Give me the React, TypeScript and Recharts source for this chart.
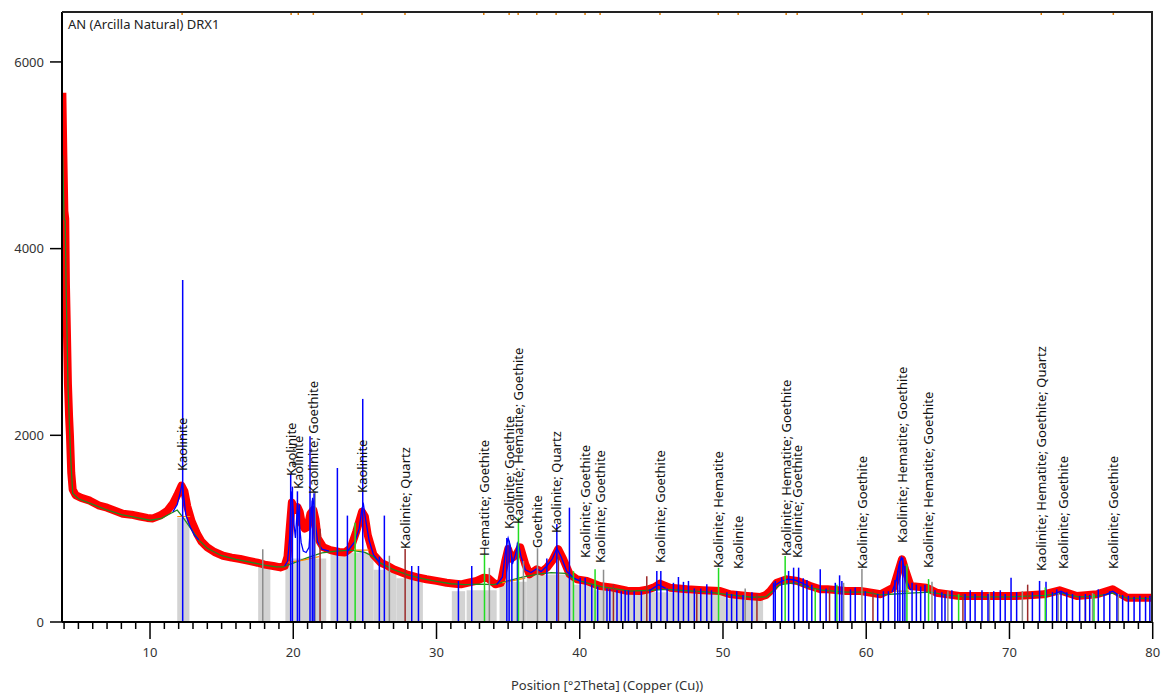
import React from "react";
import {
  ComposedChart,
  Line,
  Scatter,
  XAxis,
  YAxis,
  ReferenceLine,
  ReferenceArea,
} from "recharts";

const FONT = '"Noto Sans", "Open Sans", sans-serif';

// measured scan [°2Theta, counts]
const scanPoints = [
  [3.88, 5670], [3.95, 5000], [4.02, 4400], [4.08, 4320], [4.13, 3620], [4.2, 3100],
  [4.27, 2550], [4.35, 2200], [4.41, 2000], [4.5, 1600], [4.6, 1420], [4.8, 1360],
  [5.2, 1330], [5.8, 1300], [6.4, 1250], [7.0, 1225], [7.6, 1190], [8.1, 1160],
  [8.7, 1150], [9.3, 1130], [9.8, 1115], [10.2, 1110], [10.7, 1140], [11.2, 1190],
  [11.6, 1270], [11.9, 1360], [12.2, 1460], [12.4, 1400], [12.6, 1240], [12.9, 1080],
  [13.3, 940], [13.6, 860], [14.0, 800], [14.5, 750], [15.1, 710], [15.7, 690],
  [16.3, 675], [16.9, 655], [17.5, 635], [18.0, 615], [18.6, 600], [19.1, 585],
  [19.4, 600], [19.6, 700], [19.75, 1000], [19.9, 1280], [20.1, 1200], [20.3, 1230],
  [20.45, 1180], [20.6, 1050], [20.8, 1000], [21.0, 1020], [21.2, 1160], [21.4, 1200],
  [21.55, 1100], [21.7, 900], [22.1, 800], [22.6, 770], [23.2, 750], [23.6, 745],
  [24.0, 790], [24.4, 970], [24.8, 1180], [25.0, 1130], [25.2, 930], [25.6, 720],
  [26.1, 636], [26.6, 600], [27.0, 565], [27.5, 535], [27.9, 511], [28.6, 480],
  [29.3, 458], [30.0, 440], [30.7, 421], [31.3, 410], [31.7, 404], [32.3, 425],
  [32.8, 440], [33.3, 475], [33.6, 470], [34.1, 404], [34.5, 420], [34.8, 654],
  [35.0, 780], [35.2, 680], [35.4, 700], [35.6, 730], [35.85, 800], [36.2, 618],
  [36.5, 511], [37.0, 565], [37.35, 540], [37.7, 582], [38.1, 660], [38.5, 780],
  [38.85, 672], [39.3, 511], [39.8, 457], [40.5, 440], [41.4, 386], [42.3, 368],
  [43.3, 335], [44.2, 332], [44.8, 350], [45.2, 372], [45.6, 411], [46.3, 368],
  [47.5, 350], [48.6, 340], [49.8, 332], [50.5, 297], [51.7, 279], [52.6, 268],
  [53.0, 290], [53.3, 332], [53.75, 421], [54.45, 457], [55.2, 440], [56.1, 386],
  [56.8, 350], [57.3, 350], [58.6, 332], [59.6, 332], [61.0, 297], [61.9, 368],
  [62.25, 547], [62.5, 672], [62.72, 560], [63.1, 386], [64.2, 368], [64.9, 314],
  [66.5, 279], [68.2, 279], [70.5, 279], [72.4, 297], [73.5, 340], [74.7, 279],
  [76.1, 297], [77.2, 350], [78.2, 261], [79.9, 261],
];

// background curve
const backgroundPoints = [
  [3.9, 5000], [4.0, 4320], [4.08, 4300], [4.14, 3600], [4.21, 3060], [4.28, 2500],
  [4.45, 1800], [4.6, 1380], [5.0, 1320], [6.0, 1260], [7.0, 1200], [8.0, 1150],
  [9.0, 1120], [10.0, 1090], [10.8, 1110], [11.4, 1160], [11.9, 1200], [12.4, 1100],
  [12.9, 990], [13.4, 880], [14.0, 790], [15.0, 710], [16.0, 670], [17.0, 640],
  [18.0, 610], [18.8, 590], [19.3, 590], [20.0, 630], [21.0, 690], [22.0, 740],
  [23.0, 760], [24.0, 770], [25.0, 745], [25.6, 700], [26.1, 630], [27.0, 560],
  [28.0, 505], [29.0, 465], [30.0, 435], [31.0, 410], [32.0, 400], [33.0, 405],
  [34.0, 400], [35.0, 440], [36.0, 480], [37.0, 510], [38.0, 530], [39.0, 520],
  [39.6, 460], [40.5, 420], [41.5, 380], [42.5, 355], [43.5, 330], [45.0, 340],
  [46.0, 350], [47.5, 335], [49.0, 320], [50.5, 290], [52.0, 265], [53.0, 270],
  [54.0, 400], [55.0, 420], [56.0, 370], [57.0, 340], [58.6, 320], [60.0, 320],
  [61.0, 290], [62.0, 300], [63.0, 310], [64.5, 320], [65.5, 290], [67.0, 270],
  [70.0, 270], [72.5, 285], [73.6, 310], [74.8, 270], [76.0, 275], [77.2, 310],
  [78.2, 255], [80, 250],
];

// fitted profile, only around peaks
const fitSegments = [
  [[11.6, 1180], [11.9, 1260], [12.1, 1380], [12.25, 1490], [12.35, 1350], [12.5, 1150], [12.8, 1020], [13.1, 930], [13.4, 880]],
  [[19.4, 600], [19.6, 650], [19.75, 900], [19.85, 1400], [19.95, 1290], [20.05, 1050], [20.15, 900], [20.3, 1260], [20.4, 1100],
    [20.55, 850], [20.7, 760], [20.9, 745], [21.1, 800], [21.25, 1150], [21.35, 1330], [21.45, 1250], [21.55, 1050], [21.7, 860], [22.0, 780], [22.5, 760]],
  [[23.8, 760], [24.3, 860], [24.6, 1000], [24.8, 1220], [24.9, 1260], [25.05, 1100], [25.3, 870], [25.6, 720], [26.0, 640]],
  [[34.2, 400], [34.6, 480], [34.85, 800], [35.0, 900], [35.15, 820], [35.3, 620], [35.5, 720], [35.7, 860], [35.9, 700], [36.2, 560],
    [36.6, 530], [37.0, 570], [37.3, 540], [37.7, 600], [38.1, 680], [38.4, 790], [38.7, 700], [39.1, 540], [39.6, 470], [40.0, 440]],
  [[44.9, 340], [45.5, 400], [46.0, 360]],
  [[53.5, 380], [54.0, 430], [54.5, 460], [55.0, 450], [55.5, 420], [56.0, 380]],
  [[61.8, 320], [62.1, 450], [62.3, 620], [62.45, 690], [62.6, 620], [62.8, 450], [63.1, 340]],
  [[73.1, 300], [73.6, 330], [74.1, 290]],
  [[76.7, 290], [77.2, 330], [77.7, 280]],
];

// peak backgrounds (orange)
const peakBaseSegments = [
  [[11.9, 1130], [12.8, 1130]],
  [[19.6, 640], [20.6, 660], [21.8, 700]],
  [[24.3, 770], [25.3, 770]],
  [[34.6, 420], [36.2, 470]],
  [[62.0, 330], [63.0, 330]],
];

// grey regions under the scan [from, to, height]
const greyBands = [
  [11.9, 12.75, 1120], [17.55, 18.4, 590], [19.45, 22.3, 680], [22.6, 25.6, 745],
  [25.6, 27.2, 560], [27.2, 29.05, 470], [31.07, 32.0, 330], [32.1, 34.2, 340],
  [34.4, 36.3, 430], [36.3, 39.6, 510], [39.6, 41.0, 400], [41.0, 43.0, 340],
  [43.0, 47.5, 320], [47.5, 50.3, 300], [50.3, 52.8, 250],
];

// reference sticks [°2Theta, height]
const kaoliniteSticks = [
  [12.28, 3665], [19.82, 1590], [19.94, 1450], [20.29, 1400], [20.43, 1260], [21.17, 1990],
  [21.33, 1300], [21.45, 1380], [23.08, 1650], [23.78, 1140], [24.85, 2390], [26.01, 700],
  [26.36, 1140], [28.27, 600], [28.74, 600], [31.53, 440], [32.46, 600], [34.91, 900],
  [35.07, 870], [35.26, 700], [35.65, 850], [37.7, 680], [38.4, 1050], [39.28, 1225],
  [40.03, 475], [40.38, 475], [40.84, 400], [41.25, 380], [41.9, 360], [42.1, 350],
  [42.6, 340], [42.9, 330], [43.17, 340], [43.4, 340], [43.8, 330], [44.3, 330],
  [44.9, 350], [45.38, 547], [45.66, 547], [46.1, 360], [46.54, 420], [46.89, 482],
  [47.24, 430], [47.59, 440], [48.0, 360], [48.45, 360], [48.87, 404], [49.2, 340],
  [50.27, 320], [50.6, 300], [50.96, 330], [51.4, 290], [52.02, 320], [53.53, 421],
  [53.65, 440], [54.1, 480], [54.58, 547], [54.93, 582], [55.28, 582], [55.6, 470],
  [55.86, 450], [56.2, 400], [56.79, 565], [57.2, 360], [57.84, 420], [58.14, 500],
  [58.3, 440], [58.9, 350], [59.23, 370], [59.93, 330], [60.8, 300], [61.2, 330],
  [61.55, 330], [62.0, 450], [62.2, 550], [62.35, 650], [62.55, 690], [62.7, 600],
  [63.2, 420], [63.5, 400], [63.8, 380], [64.1, 400], [64.8, 340], [65.28, 320],
  [65.5, 300], [65.98, 340], [66.9, 300], [67.26, 340], [67.6, 300], [68.08, 340],
  [68.5, 300], [68.9, 330], [69.36, 340], [69.7, 300], [70.11, 475], [70.5, 320],
  [71.6, 320], [72.1, 440], [72.55, 430], [73.0, 320], [73.3, 350], [73.6, 330],
  [74.0, 320], [74.4, 300], [74.9, 280], [75.3, 300], [75.6, 290], [76.2, 350],
  [76.6, 300], [77.0, 330], [77.5, 300], [77.9, 290], [78.3, 280], [78.7, 270],
  [79.1, 280], [79.5, 270], [79.8, 280],
];
const hematiteSticks = [
  [24.32, 1064], [33.35, 725], [35.72, 1120], [39.56, 545], [41.07, 565], [49.69, 580],
  [54.34, 707], [56.44, 350], [57.95, 400], [62.84, 620], [64.35, 460], [66.45, 300],
  [72.5, 370], [75.9, 300],
];
const goethiteSticks = [
  [17.87, 780], [21.52, 1400], [26.71, 710], [33.69, 580], [36.07, 654], [37.05, 790],
  [41.66, 560], [51.55, 360], [58.42, 420], [59.7, 568], [64.59, 430], [65.7, 330],
  [68.6, 320], [70.9, 330], [73.4, 310], [75.8, 310], [77.6, 300],
];
const quartzSticks = [
  [21.87, 1000], [27.81, 782], [38.51, 700], [42.35, 400], [44.68, 490], [48.17, 350],
  [52.37, 300], [57.44, 380], [60.47, 330], [66.75, 300], [71.27, 400], [75.3, 260],
];

// peak labels [°2Theta, counts at label start]
const labelPos = [
  12.24, 19.85, 20.35, 21.4, 24.8, 27.8, 33.3, 35.07, 35.7, 37.0, 38.35, 40.37,
  41.42, 45.6, 49.67, 51.06, 54.41, 55.18, 59.72, 62.51, 64.33, 72.22, 73.76, 77.25,
];
const labelBase = [
  1618, 1565, 1425, 1372, 1383, 782, 707, 997, 1050, 793, 954, 686,
  632, 632, 579, 568, 707, 686, 568, 847, 579, 547, 568, 568,
];
const labelText = [
  "Kaolinite", "Kaolinite", "Kaolinite", "Kaolinite; Goethite", "Kaolinite", "Kaolinite; Quartz",
  "Hematite; Goethite", "Kaolinite; Goethite", "Kaolinite; Hematite; Goethite", "Goethite",
  "Kaolinite; Quartz", "Kaolinite; Goethite", "Kaolinite; Goethite", "Kaolinite; Goethite",
  "Kaolinite; Hematite", "Kaolinite", "Kaolinite; Hematite; Goethite", "Kaolinite; Goethite",
  "Kaolinite; Goethite", "Kaolinite; Hematite; Goethite", "Kaolinite; Hematite; Goethite",
  "Kaolinite; Hematite; Goethite; Quartz", "Kaolinite; Goethite", "Kaolinite; Goethite",
];

const Y_MAX = 6535;
const xTicks = Array.from({ length: 77 }, (_, i) => i + 4);

const toXY = (pts: number[][]) => pts.map(([x, y]) => ({ x, y }));
const withBreaks = (segs: number[][][]) =>
  segs.flatMap((seg) => [...toXY(seg), { x: seg[seg.length - 1][0] + 0.001, y: null }]);

const scan = toXY(scanPoints);
const background = toXY(backgroundPoints);
const fit = withBreaks(fitSegments);
const peakBase = withBreaks(peakBaseSegments);
const labels = labelPos.map((x, i) => ({ x, y: labelBase[i], text: labelText[i] }));
const topMarks = labelPos.map((x) => ({ x, y: Y_MAX }));

const stickGroups = [
  { pts: goethiteSticks, color: "#8c8c8c" },
  { pts: quartzSticks, color: "#9b2b2b" },
  { pts: kaoliniteSticks, color: "#0000ff" },
  { pts: hematiteSticks, color: "#22dd22" },
];

const XTick = ({ x, y, payload }: any) => {
  const v = payload.value;
  const major = v % 10 === 0;
  return (
    <g>
      <line x1={x} x2={x} y1={y} y2={y + (major ? 17 : 7)} stroke="#000" strokeWidth={1.5} />
      {major && (
        <text x={x} y={y + 35} textAnchor="middle" fontSize={13} fill="#333" fontFamily={FONT}>
          {v}
        </text>
      )}
    </g>
  );
};

const LabelShape = ({ cx, cy, payload }: any) => (
  <text
    x={cx}
    y={cy}
    transform={`rotate(-90 ${cx} ${cy})`}
    dominantBaseline="central"
    fontSize={13}
    fill="#111"
    fontFamily={FONT}
  >
    {payload.text}
  </text>
);

const TopMark = ({ cx, cy }: any) => (
  <line x1={cx} x2={cx} y1={cy - 1} y2={cy + 3} stroke="#e07b00" strokeWidth={1.5} />
);

export default function App() {
  return (
    <div style={{ position: "absolute", left: 0, top: 0, width: 1162, height: 693, background: "#fff" }}>
      <ComposedChart width={1162} height={693} margin={{ top: 12, right: 9, bottom: 0, left: 0 }}>
        <XAxis
          type="number"
          dataKey="x"
          domain={[3.855, 80.02]}
          allowDataOverflow
          ticks={xTicks}
          interval={0}
          tick={<XTick />}
          tickLine={false}
          tickSize={0}
          tickMargin={0}
          height={71}
          axisLine={{ stroke: "#000", strokeWidth: 2 }}
        />
        <YAxis
          type="number"
          dataKey="y"
          domain={[0, Y_MAX]}
          allowDataOverflow
          ticks={[0, 2000, 4000, 6000]}
          width={62}
          tickSize={12}
          tickMargin={6}
          tick={{ fontSize: 13, fill: "#333", fontFamily: FONT }}
          tickLine={{ stroke: "#000", strokeWidth: 1.5 }}
          axisLine={{ stroke: "#000", strokeWidth: 2 }}
        />
        {greyBands.map(([a, b, h], i) => (
          <ReferenceArea key={`band-${i}`} x1={a} x2={b} y1={0} y2={h} fill="#d3d3d3" fillOpacity={1} stroke="none" />
        ))}
        <Line data={scan} dataKey="y" stroke="#ff0000" strokeWidth={8} strokeLinejoin="round" dot={false} isAnimationActive={false} />
        <Line data={background} dataKey="y" stroke="#1f8a1f" strokeWidth={1.3} dot={false} isAnimationActive={false} />
        <Line data={peakBase} dataKey="y" stroke="#ff8c00" strokeWidth={1.2} dot={false} connectNulls={false} isAnimationActive={false} />
        <Line data={fit} dataKey="y" stroke="#0000ff" strokeWidth={1.3} dot={false} connectNulls={false} isAnimationActive={false} />
        {stickGroups.flatMap((g, gi) =>
          g.pts.map(([x, h], i) => (
            <ReferenceLine
              key={`s-${gi}-${i}`}
              segment={[{ x, y: 0 }, { x, y: h }]}
              stroke={g.color}
              strokeWidth={1.5}
            />
          ))
        )}
        <Scatter data={labels} dataKey="y" shape={<LabelShape />} isAnimationActive={false} />
        <Scatter data={topMarks} dataKey="y" shape={<TopMark />} isAnimationActive={false} />
      </ComposedChart>
      <div
        style={{
          position: "absolute",
          left: 62,
          top: 11,
          width: 1091,
          height: 611,
          borderTop: "2px solid #222",
          borderRight: "2px solid #222",
          boxSizing: "border-box",
          pointerEvents: "none",
        }}
      />
      <div style={{ position: "absolute", left: 68, top: 15, fontSize: 13, fontFamily: FONT, color: "#222" }}>
        AN (Arcilla Natural) DRX1
      </div>
      <div
        style={{
          position: "absolute",
          left: 0,
          width: 1214,
          top: 676,
          textAlign: "center",
          fontSize: 13,
          fontFamily: FONT,
          color: "#333",
        }}
      >
        Position [°2Theta] (Copper (Cu))
      </div>
    </div>
  );
}
